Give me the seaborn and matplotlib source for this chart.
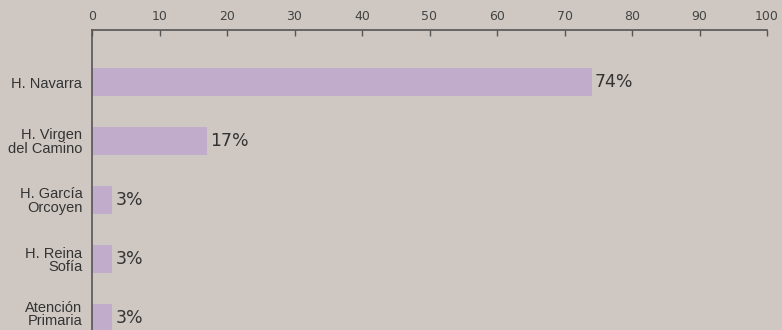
import matplotlib
matplotlib.use("Agg")
import matplotlib.pyplot as plt
import matplotlib.transforms as mtransforms
import seaborn as sns
import pandas as pd

categories = ["H. Navarra", "H. Virgen\ndel Camino", "H. García\nOrcoyen", "H. Reina\nSofía", "Atención\nPrimaria"]
values = [74, 17, 3, 3, 3]
value_labels = ["74%", "17%", "3%", "3%", "3%"]
x_ticks = [0, 10, 20, 30, 40, 50, 60, 70, 80, 90, 100]

BG = "#cfc8c2"
BAR = "#c1accb"

sns.set_theme(style="white")
plt.rcParams["font.family"] = ["DejaVu Sans"]

df = pd.DataFrame({"cat": categories, "val": values})

fig = plt.figure(figsize=(7.82, 3.30), dpi=100, facecolor=BG)
W, H = 782, 330
ax = fig.add_axes([92 / W, 0, (767 - 92) / W, 1 - 30 / H])
ax.set_facecolor(BG)

sns.barplot(data=df, y="cat", x="val", orient="h", color=BAR, width=0.49,
            saturation=1, linewidth=0, ax=ax, order=categories)

step = 59.0
top_c = 82.0
ax.set_xlim(0, 100)
ax.set_ylim(-(top_c - 30) / step + (330 - 30) / step, -(top_c - 30) / step)
ax.set_xticks(x_ticks)
ax.xaxis.tick_top()
ax.tick_params(axis="x", direction="in", length=4, width=1, color="#555555",
               labelsize=9, labelcolor="#444444", pad=5, top=True, bottom=False)
ax.tick_params(axis="y", length=0, pad=7)
ylabs = ax.get_yticklabels()
for lab in ylabs:
    lab.set_fontfamily(["Liberation Sans", "DejaVu Sans"])
    lab.set_fontsize(10.5)
    lab.set_color("#333333")
    lab.set_linespacing(0.92)
    lab.set_horizontalalignment("right")
    lab.set_multialignment("right")
last = ylabs[-1]
last.set_transform(last.get_transform() + mtransforms.ScaledTranslation(0, 5 / 100, fig.dpi_scale_trans))
ax.set_xlabel("")
ax.set_ylabel("")

for s in ["right", "bottom"]:
    ax.spines[s].set_visible(False)
for s in ["top", "left"]:
    ax.spines[s].set_color("#555555")
    ax.spines[s].set_linewidth(1.2)

for i, (v, t) in enumerate(zip(values, value_labels)):
    ax.text(v + 0.45, i, t, va="center", ha="left", fontsize=12.5, color="#333333",
            family=["DejaVu Sans"])

fig.savefig("out.png", dpi=100, facecolor=BG)
